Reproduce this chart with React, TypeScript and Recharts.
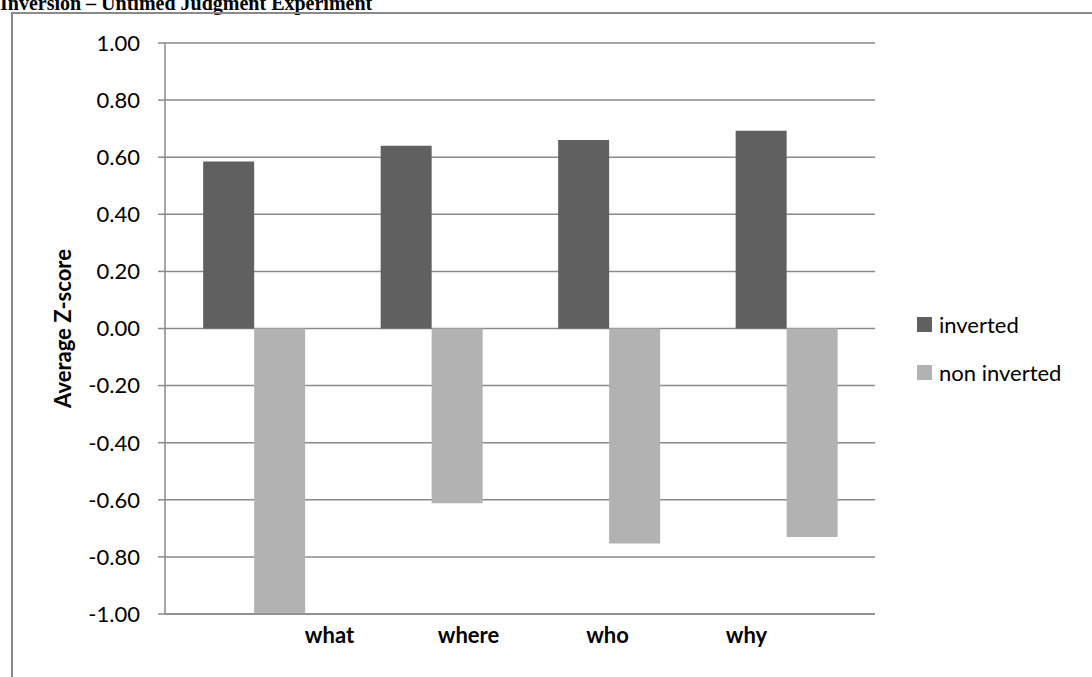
import React from 'react';
import { BarChart, Bar, XAxis, YAxis, CartesianGrid, Legend } from 'recharts';

const categories = ['what', 'where', 'who', 'why'];
const invertedValues = [0.585, 0.64, 0.66, 0.693];
const nonInvertedValues = [-1.0, -0.612, -0.753, -0.73];
const yTicks = [-1, -0.8, -0.6, -0.4, -0.2, 0, 0.2, 0.4, 0.6, 0.8, 1];
const seriesNames = ['inverted', 'non inverted'];

const data = categories.map((c, i) => ({
  cat: c,
  inverted: invertedValues[i],
  nonInverted: nonInvertedValues[i],
}));

const FONT = 'Lato, "Open Sans", sans-serif';
const GRID = '#8a8a8a';

const LegendContent = (props: any) => {
  const { payload } = props;
  return (
    <div style={{ fontFamily: FONT, fontSize: 22 }}>
      {(payload || []).map((p: any, i: number) => (
        <div key={i} style={{ display: 'flex', alignItems: 'center', height: 48 }}>
          <span style={{ display: 'inline-block', width: 15, height: 15, background: p.color, marginRight: 7 }} />
          <span style={{ color: '#000' }}>{p.value}</span>
        </div>
      ))}
    </div>
  );
};

export default function App() {
  return (
    <div style={{ position: 'absolute', left: 0, top: 0, width: 1092, height: 677, overflow: 'hidden', background: '#fff' }}>
      <div
        style={{
          position: 'absolute',
          left: 0,
          top: -7,
          fontFamily: '"Liberation Serif", "Times New Roman", serif',
          fontWeight: 'bold',
          fontSize: 20,
          lineHeight: '20px',
          whiteSpace: 'nowrap',
          color: '#000',
        }}
      >
        Inversion – Untimed Judgment Experiment
      </div>
      <div
        style={{
          position: 'absolute',
          left: 11,
          top: 12,
          width: 1200,
          height: 800,
          border: `2px solid ${GRID}`,
        }}
      />
      <div style={{ position: 'absolute', left: 0, top: 0 }}>
        <BarChart
          width={1092}
          height={677}
          data={data}
          margin={{ top: 43, right: 42, left: 0, bottom: 22 }}
          barCategoryGap="21.5%"
          barGap={0}
        >
          <CartesianGrid vertical={false} stroke={GRID} strokeWidth={1.5} />
          <XAxis
            dataKey="cat"
            height={1}
            tick={false}
            tickLine={false}
            axisLine={{ stroke: GRID, strokeWidth: 1.5 }}
          />
          <XAxis
            xAxisId="labels"
            dataKey="cat"
            height={40}
            axisLine={false}
            tickLine={false}
            padding={{ left: 95, right: 59 }}
            tickMargin={6}
            tick={{ fontFamily: FONT, fontSize: 22, fontWeight: 'bold', fill: '#000' }}
          />
          <YAxis
            width={165}
            domain={[-1, 1]}
            ticks={yTicks}
            allowDataOverflow
            interval={0}
            tickFormatter={(v: number) => v.toFixed(2)}
            tickSize={7}
            tickMargin={18}
            tickLine={{ stroke: GRID, strokeWidth: 1.5 }}
            axisLine={{ stroke: GRID, strokeWidth: 1.5 }}
            tick={{ fontFamily: FONT, fontSize: 22, fill: '#000' }}
            label={{
              value: 'Average Z-score',
              angle: -90,
              position: 'insideLeft',
              offset: 63,
              style: { textAnchor: 'middle', fontFamily: FONT, fontSize: 22, fontWeight: 'bold', fill: '#000' },
            }}
          />
          <Legend
            layout="vertical"
            verticalAlign="top"
            align="right"
            content={<LegendContent />}
            wrapperStyle={{ position: 'absolute', left: 917, top: 300, width: 175 }}
          />
          <Bar dataKey="inverted" name={seriesNames[0]} fill="#606060" isAnimationActive={false} />
          <Bar dataKey="nonInverted" name={seriesNames[1]} fill="#b2b2b2" isAnimationActive={false} />
        </BarChart>
      </div>
    </div>
  );
}
